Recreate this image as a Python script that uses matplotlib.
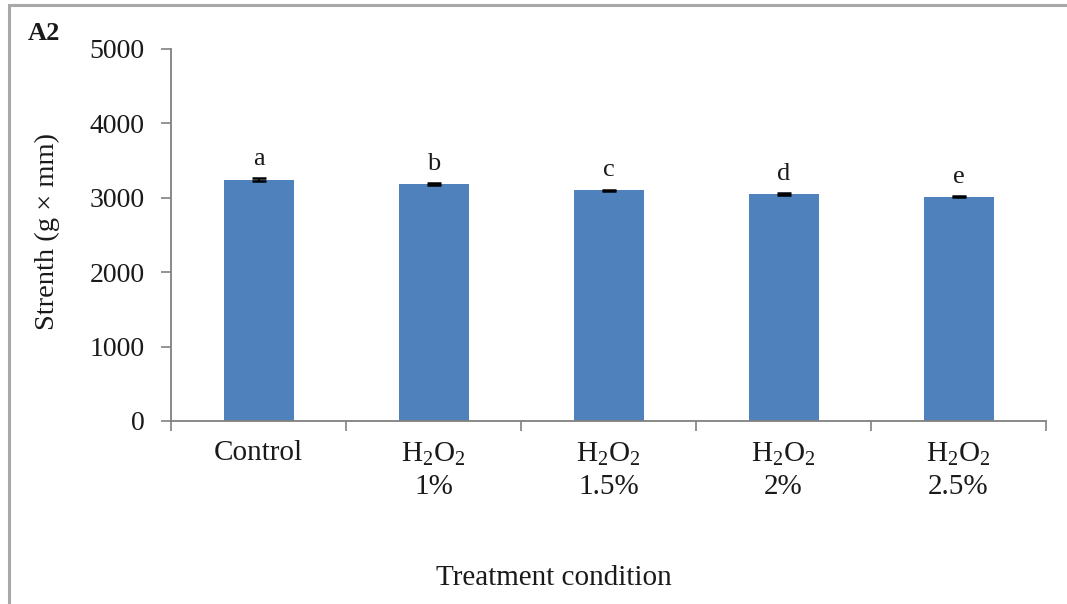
import matplotlib
matplotlib.use("Agg")
import matplotlib.pyplot as plt
from matplotlib.patches import Rectangle
import numpy as np

# strength per treatment, mean and SE
categories = ['Control', '$\\mathrm{H_2O_2}$\n1%', '$\\mathrm{H_2O_2}$\n1.5%',
              '$\\mathrm{H_2O_2}$\n2%', '$\\mathrm{H_2O_2}$\n2.5%']
strength = [3240, 3185, 3100, 3050, 3015]
strength_err = [20, 8, 8, 8, 8]
letters = ['a', 'b', 'c', 'd', 'e']
yticks = [0, 1000, 2000, 3000, 4000, 5000]

plt.rcParams['font.family'] = ['Liberation Serif', 'DejaVu Serif']
plt.rcParams['mathtext.fontset'] = 'custom'
plt.rcParams['mathtext.rm'] = 'Liberation Serif'
plt.rcParams['text.color'] = '#1a1a1a'

W, H = 1067, 604
fig = plt.figure(figsize=(W / 100, H / 100), dpi=100)

# outer frame (top and left edges visible)
fig.patches.append(Rectangle((9 / W, -0.1), 1.2, 1 - 5 / H + 0.1, transform=fig.transFigure,
                             fill=False, edgecolor='#a8a8a8', linewidth=2.2))

ax = fig.add_axes([171 / W, 1 - 421 / H, (1046 - 171) / W, (421 - 49) / H])
x = np.arange(len(categories))
ax.bar(x, strength, width=0.4, color='#4F81BD', zorder=2)
ax.errorbar(x, strength, yerr=strength_err, fmt='none', ecolor='black',
            elinewidth=1.5, capsize=5, capthick=1.8, zorder=3)

for xi, v, e, lab in zip(x, strength, strength_err, letters):
    ax.annotate(lab, (xi, v + e), xytext=(0, 6), textcoords='offset points',
                ha='center', va='bottom', fontsize=19)

ax.set_xlim(-0.5, len(categories) - 0.5)
ax.set_ylim(0, 5000)
ax.set_yticks(yticks)
ax.set_xticks(x)
ax.set_xticklabels(categories, fontsize=21, linespacing=1.3)
ax.set_xticks(np.arange(len(categories) + 1) - 0.5, minor=True)
ax.tick_params(axis='x', which='major', length=0, pad=14, labelcolor='#1a1a1a')
ax.tick_params(axis='x', which='minor', length=7, color='#808080', width=1.2)
ax.tick_params(axis='y', length=7, color='#808080', width=1.2, pad=12, labelsize=20,
               labelcolor='#1a1a1a')

for s in ['top', 'right']:
    ax.spines[s].set_visible(False)
for s in ['left', 'bottom']:
    ax.spines[s].set_color('#808080')
    ax.spines[s].set_linewidth(1.3)

fig.text(47 / W, 1 - 232 / H, 'Strenth (g × mm)', rotation=90, ha='center', va='center', fontsize=20.5)
fig.text(554 / W, 1 - 578 / H, 'Treatment condition', ha='center', va='center', fontsize=21)
fig.text(28 / W, 1 - 33 / H, 'A2', ha='left', va='center', fontsize=19, fontweight='bold')

fig.savefig('out.png', dpi=100)
